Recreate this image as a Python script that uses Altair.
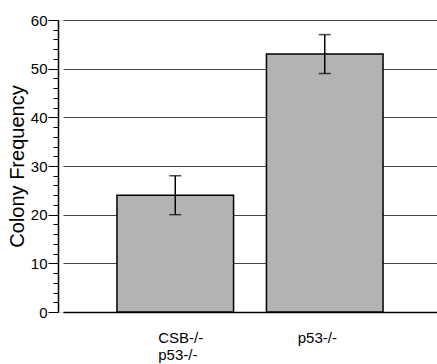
import altair as alt
import pandas as pd

categories = ["CSB-/-\np53-/-", "p53-/-"]
means = [24, 53]
err_low = [20, 49]
err_high = [28, 57]

df = pd.DataFrame({"cat": categories, "mean": means, "lo": err_low, "hi": err_high})

x_scale = alt.Scale(range=[5, 379], paddingInner=0.22, paddingOuter=0.361)

x_enc = alt.X(
    "cat:N",
    sort=None,
    scale=x_scale,
    axis=alt.Axis(
        title=None, labelAngle=0, ticks=False, domainColor="black", domainWidth=1.5,
        labelExpr="split(datum.label, '\\n')", labelPadding=18, labelFontSize=15,
        labelLineHeight=17, labelColor="black", labelFont="Liberation Sans",
        labelAlign="left",
        labelOffset={"condition": {"test": "datum.value === 'p53-/-'", "value": -27}, "value": -17},
    ),
)

y_scale = alt.Scale(domain=[0, 60], nice=False)

bars = alt.Chart(df).mark_bar(fill="#b3b3b3", stroke="black", strokeWidth=1.5).encode(
    x=x_enc,
    y=alt.Y(
        "mean:Q",
        scale=y_scale,
        axis=alt.Axis(
            title="Colony Frequency", titleFontSize=20, titleFont="Liberation Sans",
            titleFontWeight="normal", titleColor="black", titlePadding=3,
            values=list(range(0, 61, 2)), tickCount=100, format="d",
            labelExpr="datum.value % 10 === 0 ? datum.label : ''",
            labelOverlap=False, labelBound=False, labelFlush=False,
            labelFontSize=15, labelFont="Liberation Sans", labelColor="black",
            labelPadding=1,
            tickSize={"condition": {"test": "datum.value % 10 === 0", "value": 10}, "value": 5},
            tickColor="black", domainColor="black", domainWidth=1.5,
            grid=True,
            gridOpacity={"condition": {"test": "datum.value % 10 === 0", "value": 1}, "value": 0},
            gridColor="#444444", gridWidth=1,
        ),
    ),
)

rule = alt.Chart(df).mark_rule(color="black", strokeWidth=1.5).encode(
    x=alt.X("cat:N", sort=None, scale=x_scale), y=alt.Y("lo:Q", scale=y_scale), y2="hi:Q"
)
cap_lo = alt.Chart(df).mark_tick(color="black", size=12, thickness=1.5).encode(
    x=alt.X("cat:N", sort=None, scale=x_scale), y=alt.Y("lo:Q", scale=y_scale)
)
cap_hi = alt.Chart(df).mark_tick(color="black", size=12, thickness=1.5).encode(
    x=alt.X("cat:N", sort=None, scale=x_scale), y=alt.Y("hi:Q", scale=y_scale)
)

chart = (
    alt.layer(bars, rule, cap_lo, cap_hi)
    .properties(width=379, height=292, autosize="none",
                padding={"left": 58, "top": 20, "right": 0, "bottom": 52})
    .configure_view(stroke="transparent")
    .configure(background="white")
)

chart.save("out.html", embed_options={"renderer": "svg", "actions": False})
